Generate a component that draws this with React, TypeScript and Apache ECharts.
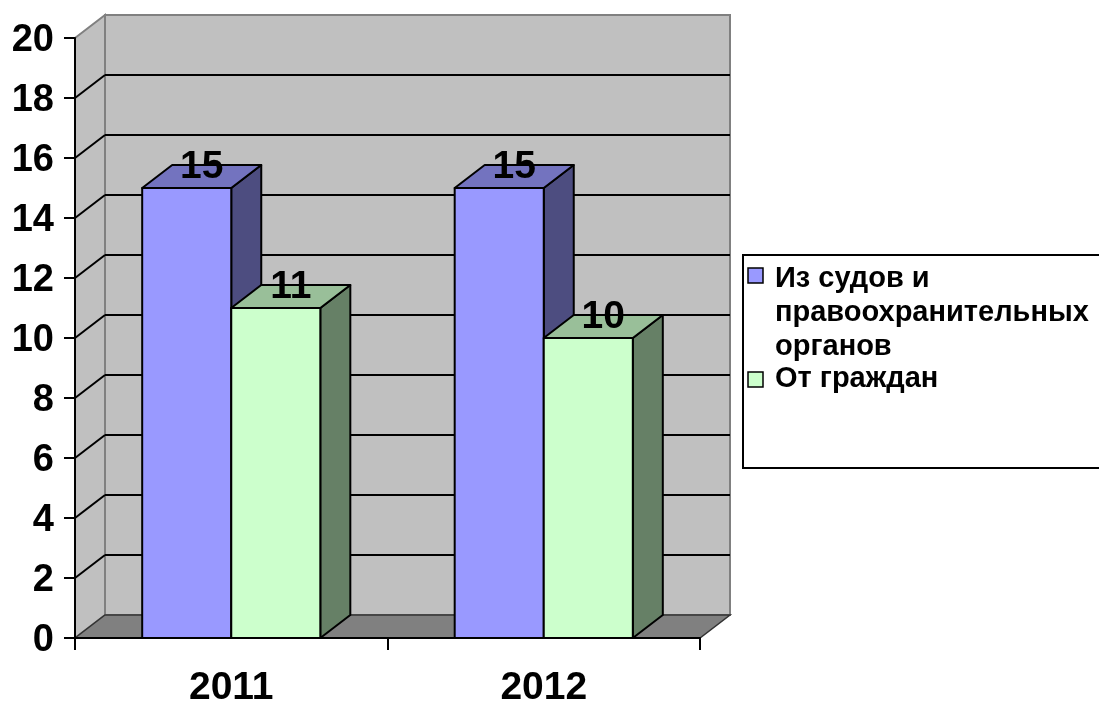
import React, { useEffect, useRef } from "react";
import * as echarts from "echarts";

const categories = ["2011", "2012"];
const seriesNames = ["Из судов и\nправоохранительных\nорганов", "От граждан"];
const courtsValues = [15, 15];
const citizensValues = [11, 10];
const yTickValues = [0, 2, 4, 6, 8, 10, 12, 14, 16, 18, 20];

const FONT = "'Liberation Sans', Arial, sans-serif";
const DX = 30;
const DY = -23;

const palettes = [
  { front: "#9999ff", side: "#4d4d80", top: "#7373bf" },
  { front: "#ccffcc", side: "#668066", top: "#99bf99" },
];

function barRender(index: number) {
  const pal = palettes[index];
  return (params: any, api: any) => {
    const cat = api.value(0);
    const val = api.value(1);
    const base = api.coord([cat, 0]);
    const top = api.coord([cat, val]);
    const band = api.size([1, 0])[0];
    const w = band * 0.285;
    const x0 = base[0] + (index === 0 ? -w : 0);
    const x1 = x0 + w;
    const yb = base[1];
    const yt = top[1];
    const stroke = { stroke: "#000", lineWidth: 2, lineJoin: "round" };
    return {
      type: "group",
      children: [
        {
          type: "polygon",
          shape: { points: [[x1, yt], [x1 + DX, yt + DY], [x1 + DX, yb + DY], [x1, yb]] },
          style: { fill: pal.side, ...stroke },
        },
        {
          type: "polygon",
          shape: { points: [[x0, yt], [x0 + DX, yt + DY], [x1 + DX, yt + DY], [x1, yt]] },
          style: { fill: pal.top, ...stroke },
        },
        {
          type: "rect",
          shape: { x: x0, y: yt, width: w, height: yb - yt },
          style: { fill: pal.front, ...stroke },
        },
        {
          type: "text",
          x: (x0 + x1) / 2 + DX / 2,
          y: yt - 24,
          style: {
            text: String(val),
            fill: "#000",
            font: `bold 39px ${FONT}`,
            align: "center",
            verticalAlign: "middle",
          },
        },
      ],
    };
  };
}

function backgroundRender(params: any, api: any) {
  const cs = params.coordSys;
  const L = cs.x;
  const R = cs.x + cs.width;
  const y0 = api.coord([0, 0])[1];
  const yMax = api.coord([0, yTickValues[yTickValues.length - 1]])[1];
  const children: any[] = [
    {
      type: "polygon",
      shape: { points: [[L, yMax], [L + DX, yMax + DY], [L + DX, y0 + DY], [L, y0]] },
      style: { fill: "#c0c0c0", stroke: "#808080", lineWidth: 2 },
    },
    {
      type: "rect",
      shape: { x: L + DX, y: yMax + DY, width: R - L, height: y0 - yMax },
      style: { fill: "#c0c0c0", stroke: "#808080", lineWidth: 2 },
    },
  ];
  yTickValues.forEach((v) => {
    if (v === 0 || v === yTickValues[yTickValues.length - 1]) return;
    const y = api.coord([0, v])[1];
    children.push({
      type: "line",
      shape: { x1: L + DX, y1: y + DY, x2: R + DX, y2: y + DY },
      style: { stroke: "#000", lineWidth: 2 },
    });
    children.push({
      type: "line",
      shape: { x1: L, y1: y, x2: L + DX, y2: y + DY },
      style: { stroke: "#000", lineWidth: 2 },
    });
  });
  children.push({
    type: "polygon",
    shape: { points: [[L, y0], [R, y0], [R + DX, y0 + DY], [L + DX, y0 + DY]] },
    style: { fill: "#808080", stroke: "#333", lineWidth: 1.5 },
  });
  return { type: "group", children };
}

export default function App() {
  const ref = useRef<HTMLDivElement>(null);
  useEffect(() => {
    if (!ref.current) return;
    const chart = echarts.init(ref.current, undefined, { renderer: "svg" });
    const legendItems: any[] = [
      { type: "rect", shape: { x: 743, y: 255, width: 380, height: 213 }, style: { fill: "#fff", stroke: "#000", lineWidth: 2 } },
      { type: "rect", shape: { x: 748, y: 268, width: 15, height: 15 }, style: { fill: palettes[0].front, stroke: "#000", lineWidth: 1.5 } },
      { type: "rect", shape: { x: 748, y: 372, width: 15, height: 15 }, style: { fill: palettes[1].front, stroke: "#000", lineWidth: 1.5 } },
      {
        type: "text", x: 775, y: 260,
        style: { text: seriesNames[0], font: `bold 29px ${FONT}`, lineHeight: 34, fill: "#000", align: "left", verticalAlign: "top" },
      },
      {
        type: "text", x: 775, y: 360,
        style: { text: seriesNames[1], font: `bold 29px ${FONT}`, lineHeight: 34, fill: "#000", align: "left", verticalAlign: "top" },
      },
    ];
    chart.setOption({
      animation: false,
      grid: { left: 75, top: 38, width: 625, height: 600, containLabel: false },
      xAxis: {
        type: "category",
        data: categories,
        z: 10,
        axisLine: { show: true, lineStyle: { color: "#000", width: 2 } },
        axisTick: { show: true, length: 12, lineStyle: { color: "#000", width: 2 } },
        axisLabel: { color: "#000", fontSize: 39, fontWeight: "bold", fontFamily: FONT, margin: 29, lineHeight: 36 },
        splitLine: { show: false },
      },
      yAxis: {
        type: "value",
        min: 0,
        max: 20,
        interval: 2,
        z: 10,
        axisLine: { show: true, lineStyle: { color: "#000", width: 2 } },
        axisTick: { show: true, length: 11, lineStyle: { color: "#000", width: 2 } },
        axisLabel: { color: "#000", fontSize: 38, fontWeight: "bold", fontFamily: FONT, margin: 21 },
        splitLine: { show: false },
      },
      series: [
        { type: "custom", name: "bg", z: 1, renderItem: backgroundRender, data: [[0, 0]], silent: true },
        {
          type: "custom",
          name: seriesNames[0],
          z: 2,
          renderItem: barRender(0),
          data: categories.map((c, i) => [i, courtsValues[i]]),
        },
        {
          type: "custom",
          name: seriesNames[1],
          z: 3,
          renderItem: barRender(1),
          data: categories.map((c, i) => [i, citizensValues[i]]),
        },
      ],
      graphic: legendItems,
    });
    return () => chart.dispose();
  }, []);
  return <div ref={ref} style={{ position: "fixed", left: 0, top: 0, width: 1099, height: 705 }} />;
}
